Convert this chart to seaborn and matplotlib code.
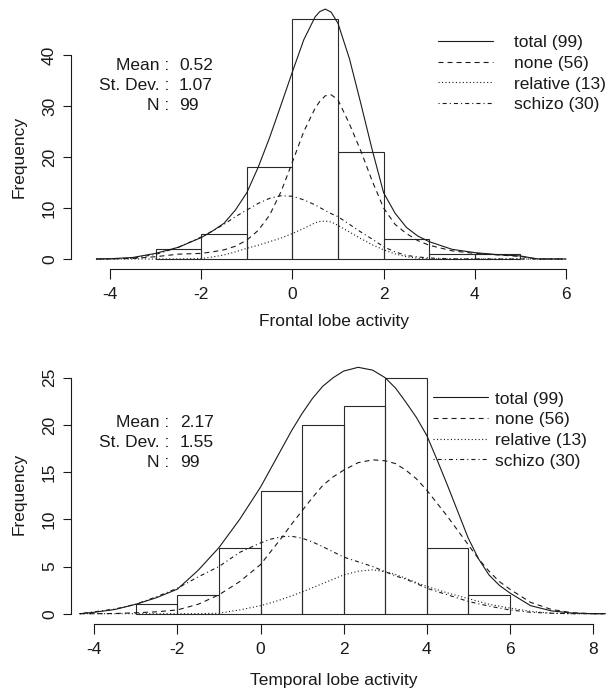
import matplotlib
matplotlib.use("Agg")
import matplotlib.pyplot as plt
from matplotlib.lines import Line2D
import seaborn as sns

# ---------------- data ----------------
frontal_edges = [-3, -2, -1, 0, 1, 2, 3, 4, 5]
frontal_counts = [2, 5, 18, 47, 21, 4, 1, 1]

temporal_edges = [-3, -2, -1, 0, 1, 2, 3, 4, 5, 6]
temporal_counts = [1, 2, 7, 13, 20, 22, 25, 7, 2]

frontal_x = [-4.3, -4.0, -3.5, -3.0, -2.5, -2.0, -1.75, -1.5, -1.25, -1.0, -0.75, -0.5,
             -0.25, 0.0, 0.25, 0.5, 0.6, 0.72, 0.85, 1.0, 1.25, 1.5, 1.75, 2.0, 2.25,
             2.5, 2.75, 3.0, 3.5, 4.0, 4.5, 5.0, 5.25, 5.4, 6.0]
frontal_total = [0, 0.05, 0.3, 1.1, 2.3, 4.2, 5.5, 7.0, 9.6, 13.0, 18.0, 23.8,
                 30.2, 36.7, 43.0, 47.5, 48.5, 49.0, 48.4, 46.2, 39.3, 30.5, 21.4, 13.0, 9.0,
                 6.2, 4.5, 3.4, 1.9, 1.25, 0.85, 0.6, 0.2, 0.0, 0.0]
frontal_none = [0, 0.02, 0.1, 0.45, 0.95, 1.1, 1.4, 1.8, 2.5, 3.7, 5.6, 8.6,
                13.2, 19.0, 25.0, 29.6, 30.9, 32.0, 32.2, 31.2, 26.5, 21.2, 15.3, 10.0, 6.8,
                5.0, 3.6, 2.7, 1.6, 1.1, 0.8, 0.5, 0.15, 0.0, 0.0]
frontal_relative = [0, 0, 0, 0, 0.02, 0.1, 0.4, 0.8, 1.4, 2.1, 2.7, 3.4,
                    4.1, 5.0, 6.0, 7.1, 7.35, 7.45, 7.25, 6.6, 5.3, 4.0, 2.8, 1.8, 1.0,
                    0.45, 0.15, 0.02, 0, 0, 0, 0, 0, 0, 0]
frontal_schizo = [0, 0.02, 0.15, 0.9, 2.3, 4.3, 5.5, 6.8, 8.3, 9.6, 10.9, 11.9,
                  12.4, 12.3, 11.6, 10.6, 10.1, 9.5, 8.9, 8.3, 6.8, 5.3, 3.9, 2.4, 1.4,
                  0.7, 0.4, 0.2, 0.03, 0, 0, 0, 0, 0, 0]

temporal_x = [-4.35, -4.0, -3.5, -3.0, -2.5, -2.0, -1.5, -1.0, -0.5, 0.0, 0.25, 0.5,
              0.75, 1.0, 1.25, 1.5, 1.75, 2.0, 2.35, 2.7, 3.0, 3.25, 3.5, 3.75, 4.0,
              4.25, 4.5, 4.75, 5.0, 5.25, 5.5, 5.75, 6.0, 6.5, 7.0, 7.5, 8.0, 8.3]
temporal_total = [0, 0.15, 0.45, 1.0, 1.7, 2.6, 4.6, 7.0, 10.0, 13.4, 15.4, 17.4,
                  19.4, 21.2, 22.8, 24.1, 25.0, 25.7, 26.1, 25.8, 25.0, 23.9, 22.4, 20.8, 18.9,
                  16.3, 13.6, 10.8, 8.0, 5.8, 4.1, 3.0, 2.2, 0.85, 0.3, 0.07, 0.0, 0.0]
temporal_none = [0, 0, 0.02, 0.1, 0.2, 0.4, 1.0, 2.0, 3.4, 5.2, 6.6, 8.0,
                 9.5, 10.9, 12.3, 13.6, 14.5, 15.2, 16.0, 16.3, 16.2, 15.9, 15.2, 14.3, 13.1,
                 11.7, 10.3, 8.8, 7.3, 5.8, 4.5, 3.4, 2.6, 1.2, 0.45, 0.1, 0, 0]
temporal_relative = [0, 0, 0, 0, 0, 0, 0, 0.05, 0.4, 0.85, 1.15, 1.5,
                     1.9, 2.3, 2.75, 3.2, 3.65, 4.1, 4.5, 4.65, 4.45, 4.15, 3.75, 3.3, 2.9,
                     2.55, 2.2, 1.9, 1.6, 1.3, 1.0, 0.8, 0.6, 0.25, 0.05, 0, 0, 0]
temporal_schizo = [0, 0.2, 0.5, 1.0, 1.8, 2.7, 3.9, 5.0, 6.5, 7.5, 7.9, 8.15,
                   8.2, 8.0, 7.6, 7.1, 6.55, 6.0, 5.5, 5.0, 4.45, 4.0, 3.65, 3.2, 2.7,
                   2.35, 2.0, 1.65, 1.3, 1.05, 0.8, 0.6, 0.4, 0.15, 0.05, 0, 0, 0]

group_labels = ["total (99)", "none (56)", "relative (13)", "schizo (30)"]
stat_names = ["Mean :", "St. Dev. :", "N :"]
frontal_stats = ["0.52", "1.07", "99"]
temporal_stats = ["2.17", "1.55", "99"]
frontal_xticks = [-4, -2, 0, 2, 4, 6]
frontal_yticks = [0, 10, 20, 30, 40]
temporal_xticks = [-4, -2, 0, 2, 4, 6, 8]
temporal_yticks = [0, 5, 10, 15, 20, 25]
frontal_xlabel = "Frontal lobe activity"
temporal_xlabel = "Temporal lobe activity"
ylabel_text = "Frequency"

# ---------------- styling ----------------
sns.set_theme(style="ticks")
plt.rcParams["font.family"] = ["Liberation Sans", "DejaVu Sans"]
plt.rcParams["lines.scale_dashes"] = False
FS = 12.5
INK = "#1a1a1a"
BAR = "#2a2a2a"
LW = 0.8
STYLES = ["-", (0, (3.6, 2.9)), (0, (0.8, 1.7)), (0, (0.8, 2.2, 2.9, 2.2))]

W, H = 615, 698
fig = plt.figure(figsize=(W / 100, H / 100), dpi=100)
fig.patch.set_facecolor("white")


def fx(px):
    return px / W


def fy(py):
    return 1 - py / H


AX_L, AX_R = 71, 610
AX_H = 264


def panel(ax_top_px, edges, counts, xs, curves, x0px, xscale, y0px, yscale,
          xticks, yticks, xlabel, xlabel_base_px, ylabel_center_px, stats,
          stat_base_px, stat_colon_px, stat_val_px, leg_line_px, leg_x0, leg_x1,
          leg_text_x):
    ax_bot_px = ax_top_px + AX_H
    ax = fig.add_axes([fx(AX_L), fy(ax_bot_px), (AX_R - AX_L) / W, AX_H / H])
    ax.set_facecolor("white")

    centers = [(a + b) / 2 for a, b in zip(edges[:-1], edges[1:])]
    sns.histplot(x=centers, weights=counts, bins=edges, ax=ax, fill=False,
                 color=BAR, linewidth=LW)

    for ys, st in zip(curves, STYLES):
        sns.lineplot(x=xs, y=ys, ax=ax, color=INK, linewidth=LW,
                     estimator=None, sort=False)
        ax.lines[-1].set_linestyle(st)

    ax.set_xlim((AX_L - x0px) / xscale, (AX_R - x0px) / xscale)
    ax.set_ylim((y0px - ax_bot_px) / yscale, (y0px - ax_top_px) / yscale)

    for s in ("top", "right"):
        ax.spines[s].set_visible(False)
    for s in ("left", "bottom"):
        ax.spines[s].set_linewidth(0.8)
        ax.spines[s].set_color(INK)
    ax.spines["left"].set_bounds(yticks[0], yticks[-1])
    ax.spines["bottom"].set_bounds(xticks[0], xticks[-1])

    ax.set_xticks(xticks)
    ax.set_xticklabels([str(t) for t in xticks])
    ax.set_yticks(yticks)
    ax.set_yticklabels([str(t) for t in yticks], rotation=90, va="center")
    ax.tick_params(axis="x", length=7, width=0.8, pad=6.3, labelsize=FS,
                   color=INK, labelcolor=INK, direction="out", bottom=True)
    ax.tick_params(axis="y", length=5.5, width=0.8, pad=4.5, labelsize=FS,
                   color=INK, labelcolor=INK, direction="out", left=True)
    ax.grid(False)

    ax.set_xlabel(xlabel, fontsize=FS, color=INK)
    ax.xaxis.label.set_va("baseline")
    ax.xaxis.set_label_coords((334 - AX_L) / (AX_R - AX_L),
                              (ax_bot_px - xlabel_base_px) / AX_H)
    ax.set_ylabel(ylabel_text, fontsize=FS, color=INK)
    ax.yaxis.label.set_va("center")
    ax.yaxis.set_label_coords((19 - AX_L) / (AX_R - AX_L),
                              (ax_bot_px - ylabel_center_px) / AX_H)

    # summary statistics
    for i, (name, val) in enumerate(zip(stat_names, stats)):
        yb = stat_base_px + 20 * i
        fig.text(fx(stat_colon_px), fy(yb), name, ha="right", va="baseline",
                 fontsize=FS, color=INK)
        fig.text(fx(stat_val_px), fy(yb), val, ha="left", va="baseline",
                 fontsize=FS, color=INK)

    # legend
    for i, (lab, st) in enumerate(zip(group_labels, STYLES)):
        yl = leg_line_px + 20.7 * i
        fig.add_artist(Line2D([fx(leg_x0), fx(leg_x1)], [fy(yl), fy(yl)],
                              transform=fig.transFigure, color=INK,
                              linewidth=LW, linestyle=st))
        fig.text(fx(leg_text_x), fy(yl + 6.3), lab, ha="left", va="baseline",
                 fontsize=FS, color=INK)
    return ax


panel(5, frontal_edges, frontal_counts, frontal_x,
      [frontal_total, frontal_none, frontal_relative, frontal_schizo],
      292.4, 45.6, 259.0, 5.1,
      frontal_xticks, frontal_yticks, frontal_xlabel, 326, 157,
      frontal_stats, 70, 169.5, 179, 41, 438, 493, 514)

panel(360, temporal_edges, temporal_counts, temporal_x,
      [temporal_total, temporal_none, temporal_relative, temporal_schizo],
      260.5, 41.55, 613.7, 9.44,
      temporal_xticks, temporal_yticks, temporal_xlabel, 684.5, 494,
      temporal_stats, 427.3, 169.5, 180, 397.3, 433, 488, 495)

fig.savefig("out.png", dpi=100, facecolor="white")
